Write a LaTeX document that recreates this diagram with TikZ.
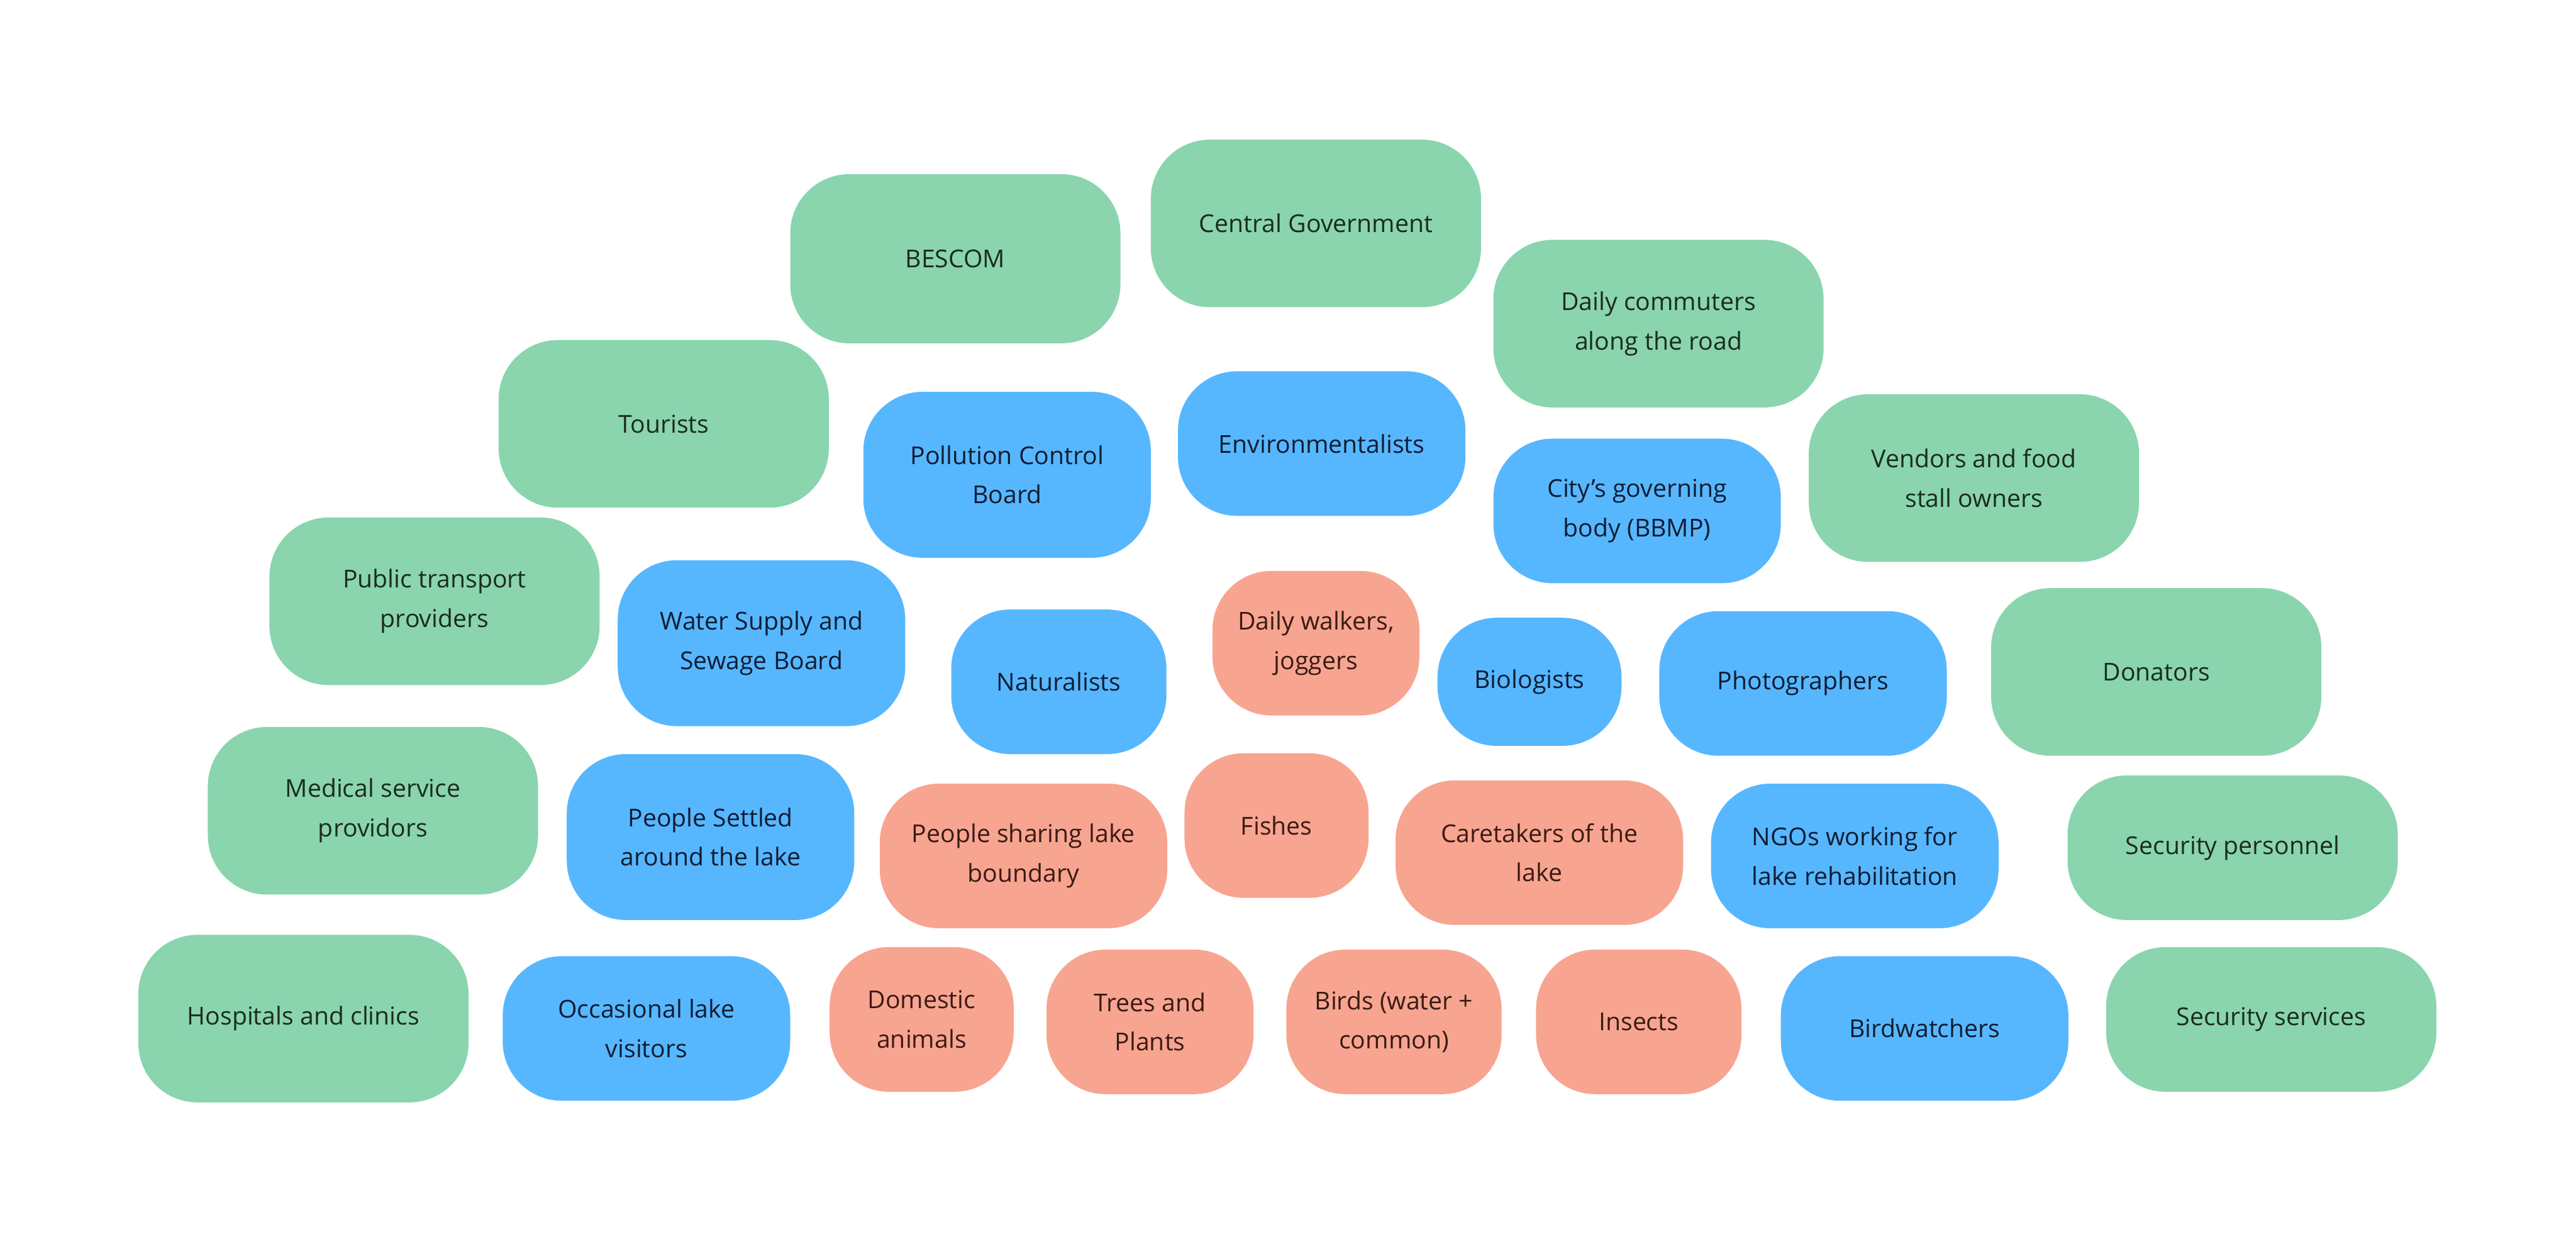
\documentclass[tikz,border=0pt]{standalone}
\usepackage{fontspec}
\setmainfont{Open Sans}
\usetikzlibrary{positioning}

\definecolor{grpgreen}{HTML}{8AD5AE}
\definecolor{grpblue}{HTML}{57B7FE}
\definecolor{grpsalmon}{HTML}{F7A590}
\definecolor{txtgreen}{HTML}{1A2B1F}
\definecolor{txtblue}{HTML}{0F1C33}
\definecolor{txtsalmon}{HTML}{3A1A14}

\begin{document}
\begin{tikzpicture}[x=1pt, y=-1pt,
	box/.style={rounded corners=36pt, inner sep=0pt, align=center, font=\fontsize{15}{24}\selectfont},
	dims/.style 2 args={minimum width=#1pt, minimum height=#2pt},
	outer/.style={box, fill=grpgreen, text=txtgreen},
	middle/.style={box, fill=grpblue, text=txtblue},
	inner/.style={box, fill=grpsalmon, text=txtsalmon}]
		\useasboundingbox (0,0) rectangle (1568,757);
		
		% outer ring
		\node [outer, dims={201}{103}] (bescom) at (581.5,157.5) {BESCOM};
		\node [outer, dims={201}{102}] (centralgov) at (801,136) {Central Government};
		\node [outer, dims={201}{102}] (commuters) at (1009.5,197) {Daily commuters\\along the road};
		\node [outer, dims={201}{102}] (tourists) at (404,258) {Tourists};
		\node [outer, dims={201}{102}] (vendors) at (1201.5,291) {Vendors and food\\stall owners};
		\node [outer, dims={201}{102}] (transport) at (264.5,366) {Public transport\\providers};
		\node [outer, dims={201}{102}] (donators) at (1312.5,409) {Donators};
		\node [outer, dims={201}{102}] (medical) at (227,493.5) {Medical service\\providors};
		\node [outer, dims={201}{102}] (hospitals) at (184.7,620) {Hospitals and clinics};
		\node [outer, dims={201}{88}] (secpersonnel) at (1359,516) {Security personnel};
		\node [outer, dims={201}{88}] (secservices) at (1382.5,620.5) {Security services};
		
		% middle ring
		\node [middle, dims={175}{101}] (pcb) at (613,289) {Pollution Control\\Board};
		\node [middle, dims={175}{88}] (environ) at (804.5,270) {Environmentalists};
		\node [middle, dims={175}{88}] (bbmp) at (996.5,311) {City’s governing\\body (BBMP)};
		\node [middle, dims={175}{101}] (watersupply) at (463.5,391.5) {Water Supply and\\Sewage Board};
		\node [middle, dims={131}{88}] (naturalists) at (644.5,415) {Naturalists};
		\node [middle, dims={112}{78}] (biologists) at (931,415) {Biologists};
		\node [middle, dims={175}{88}] (photographers) at (1097.5,416) {Photographers};
		\node [middle, dims={175}{101}] (settled) at (432.5,509.5) {People Settled\\around the lake};
		\node [middle, dims={175}{88}] (ngos) at (1129,521) {NGOs working for\\lake rehabilitation};
		\node [middle, dims={175}{88}] (occasional) at (393.5,626) {Occasional lake\\visitors};
		\node [middle, dims={175}{88}] (birdwatchers) at (1171.5,626) {Birdwatchers};
		
		% inner ring
		\node [inner, dims={126}{88}] (walkers) at (801,391.5) {Daily walkers,\\joggers};
		\node [inner, dims={175}{88}] (sharing) at (623,521) {People sharing lake\\boundary};
		\node [inner, dims={112}{88}] (fishes) at (777,502.5) {Fishes};
		\node [inner, dims={175}{88}] (caretakers) at (937,519) {Caretakers of the\\lake};
		\node [inner, dims={112}{88}] (domestic) at (561,620.5) {Domestic\\animals};
		\node [inner, dims={126}{88}] (trees) at (700,622) {Trees and\\Plants};
		\node [inner, dims={131}{88}] (birds) at (848.5,622) {Birds (water +\\common)};
		\node [inner, dims={125}{88}] (insects) at (997.5,622) {Insects};
	\end{tikzpicture}
\end{document}
